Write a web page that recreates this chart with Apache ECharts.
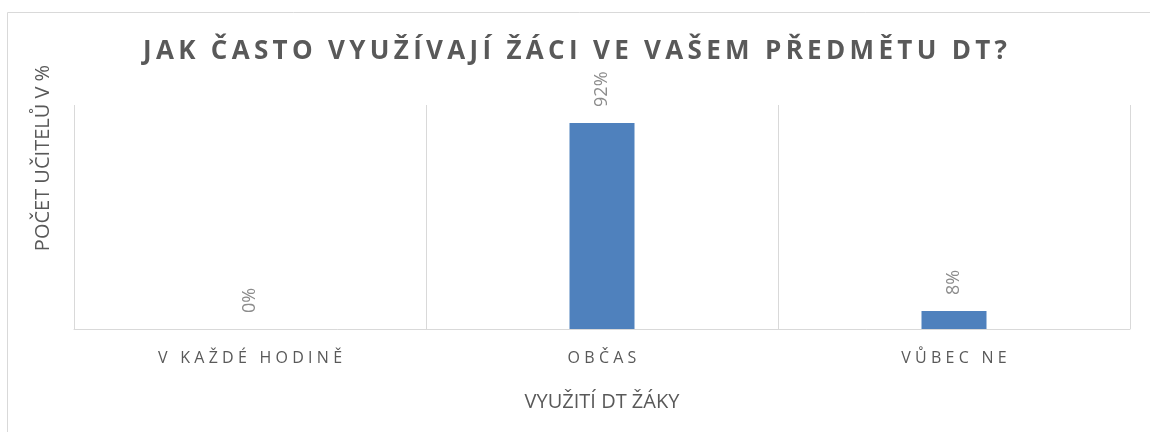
<!DOCTYPE html>
<html>
<head>
<meta charset="utf-8">
<script src="https://cdn.jsdelivr.net/npm/echarts@6/dist/echarts.min.js"></script>
<style>
  html, body { margin: 0; padding: 0; background: #fff; }
  #chart { width: 1150px; height: 432px; }
</style>
</head>
<body>
<div id="chart"></div>
<script>
// Survey answers: how often pupils use DT in the teacher's subject
const titleText = 'JAK ČASTO VYUŽÍVAJÍ ŽÁCI VE VAŠEM PŘEDMĚTU DT?';
const categories = ['V KAŽDÉ HODINĚ', 'OBČAS', 'VŮBEC NE'];
const percentValues = [0, 92, 8];
const xAxisTitle = 'VYUŽITÍ DT ŽÁKY';
const yAxisTitle = 'POČET UČITELŮ V %';

// widen text by putting a narrow space between characters
function spaced(str, gap) {
  return Array.from(str).join(gap);
}

const FONT = '"Open Sans", "Noto Sans", sans-serif';
const chart = echarts.init(document.getElementById('chart'));

chart.setOption({
  animation: false,
  title: {
    text: spaced(titleText, '\u2009'),
    left: 'center',
    top: 34,
    textStyle: { fontFamily: FONT, fontSize: 26, fontWeight: 'bold', color: '#595959' }
  },
  grid: { left: 74, right: 20, top: 105, bottom: 103 },
  xAxis: {
    type: 'category',
    data: categories,
    boundaryGap: true,
    axisLine: { show: true, lineStyle: { color: '#d9d9d9', width: 1 } },
    axisTick: { show: false },
    splitLine: { show: true, lineStyle: { color: '#d9d9d9', width: 1 } },
    axisLabel: {
      margin: 21,
      fontFamily: FONT,
      fontSize: 16,
      color: '#595959',
      formatter: (v) => spaced(v, '\u2009\u200A')
    },
    name: xAxisTitle,
    nameLocation: 'middle',
    nameGap: 63,
    nameTextStyle: { fontFamily: FONT, fontSize: 20, color: '#595959' }
  },
  yAxis: {
    type: 'value',
    min: 0,
    max: 100,
    show: false
  },
  graphic: [
    {
      type: 'rect',
      shape: { x: 7.5, y: 12.5, width: 1200, height: 500 },
      style: { fill: 'none', stroke: '#d9d9d9', lineWidth: 1 },
      silent: true
    },
    {
      type: 'text',
      x: 43,
      y: 158,
      rotation: Math.PI / 2,
      style: {
        text: yAxisTitle,
        fontFamily: FONT,
        fontSize: 20,
        fill: '#595959',
        align: 'center',
        verticalAlign: 'middle'
      }
    }
  ],
  series: [{
    type: 'bar',
    data: percentValues,
    barWidth: 65,
    itemStyle: { color: '#4f81bd' },
    label: {
      show: true,
      position: 'top',
      distance: 16,
      rotate: 90,
      align: 'left',
      verticalAlign: 'middle',
      fontFamily: FONT,
      fontSize: 18,
      color: '#8c8c8c',
      formatter: (p) => p.value + '%'
    }
  }]
});
</script>
</body>
</html>
